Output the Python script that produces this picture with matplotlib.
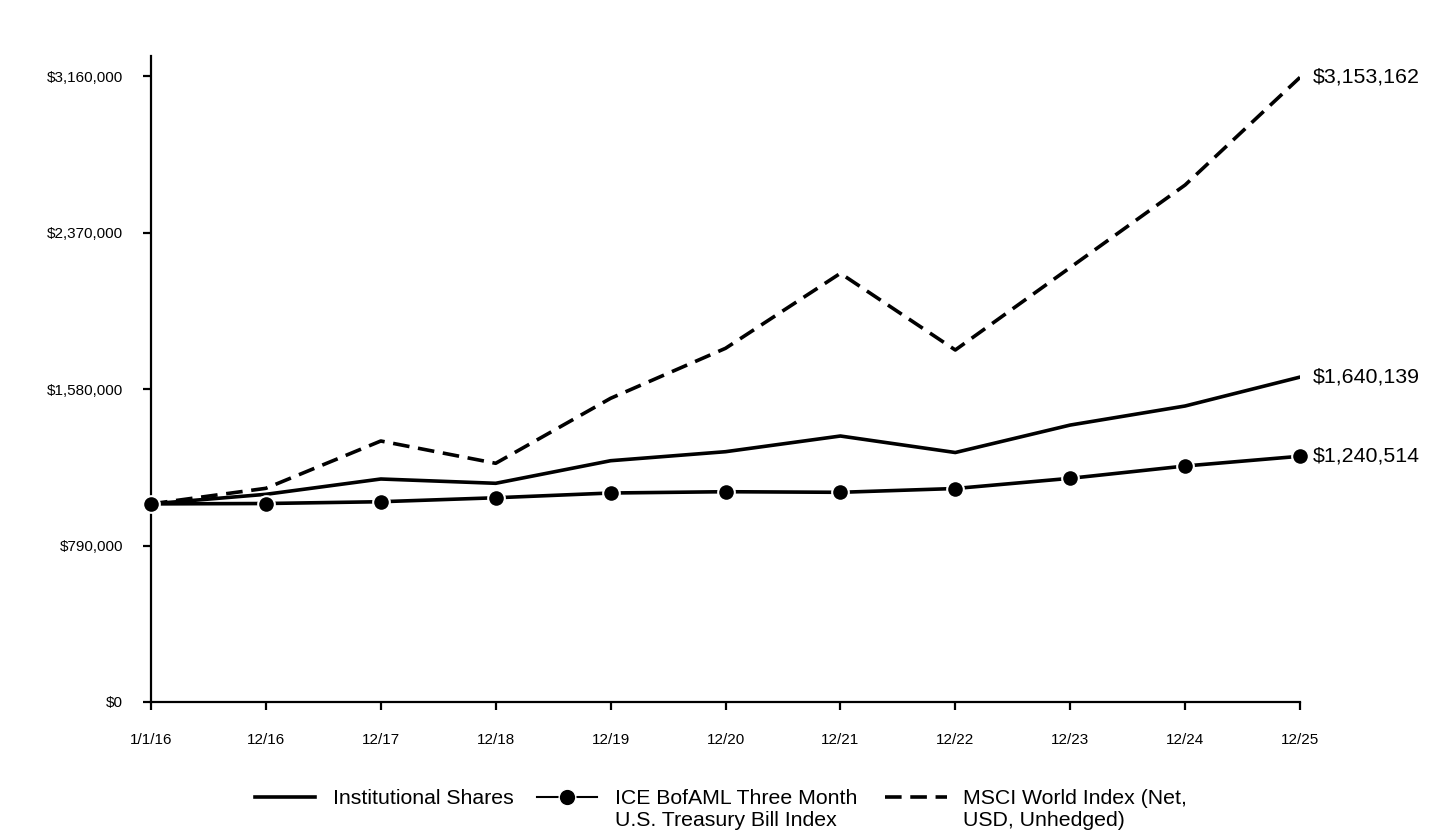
import matplotlib
matplotlib.use("Agg")
import matplotlib.pyplot as plt
from matplotlib.lines import Line2D
from matplotlib.ticker import FuncFormatter

plt.rcParams['font.family'] = ['Liberation Sans', 'DejaVu Sans']

dates = ["1/1/16", "12/16", "12/17", "12/18", "12/19", "12/20",
         "12/21", "12/22", "12/23", "12/24", "12/25"]
institutional = [1000000, 1048400, 1125700, 1104000, 1218000, 1263500,
                 1342700, 1259400, 1398000, 1494200, 1640139]
tbill = [1000000, 1002000, 1011000, 1031000, 1055000, 1061500,
         1058500, 1077700, 1129200, 1191300, 1240514]
msci = [1000000, 1078700, 1317500, 1205000, 1533000, 1785400,
        2164000, 1776900, 2193300, 2609800, 3153162]
yticks = [0, 790000, 1580000, 2370000, 3160000]
names = ["Institutional Shares",
         "ICE BofAML Three Month\nU.S. Treasury Bill Index",
         "MSCI World Index (Net,\nUSD, Unhedged)"]

W, H = 1440, 840
fig = plt.figure(figsize=(W / 100, H / 100), dpi=100)
ax = fig.add_axes([151 / W, 1 - 702 / H, (1300 - 151) / W, (702 - 56) / H])

x = list(range(len(dates)))
ax.plot(x, institutional, color='black', lw=2.6, zorder=3)
ax.plot(x, msci, color='black', lw=2.6, dashes=(4.6, 2.4), zorder=3)
ax.plot(x, tbill, color='black', lw=2.6, marker='o', markersize=12,
        markerfacecolor='black', markeredgecolor='white', markeredgewidth=1.5,
        zorder=4, clip_on=False)

for series in (msci, institutional, tbill):
    v = series[-1]
    ax.annotate(f"${v:,.0f}", xy=(x[-1], v), xytext=(9, 0),
                textcoords='offset points', va='center', ha='left',
                fontsize=15.4, annotation_clip=False)

ax.set_xlim(0, 10)
ax.set_ylim(0, 3261000)
ax.set_xticks(x)
ax.set_xticklabels(dates)
ax.set_yticks(yticks)
ax.yaxis.set_major_formatter(FuncFormatter(lambda v, p: f"${v:,.0f}"))

for s in ('top', 'right'):
    ax.spines[s].set_visible(False)
for s in ('left', 'bottom'):
    ax.spines[s].set_linewidth(1.6)
ax.tick_params(axis='x', length=6, width=1.6, pad=16, labelsize=11)
ax.tick_params(axis='y', length=6, width=1.6, pad=14, labelsize=11)

# Legend (handles aligned with first text line)
ly = 1 - 797 / H
fs = 15.3
fig.add_artist(Line2D([255 / W, 315 / W], [ly, ly], color='black', lw=2.6,
                      transform=fig.transFigure))
fig.text(333 / W, 1 - 804 / H, names[0], fontsize=fs, va='baseline', ha='left')

fig.add_artist(Line2D([537 / W, 597 / W], [ly, ly], color='black', lw=1.5,
                      transform=fig.transFigure))
fig.add_artist(Line2D([567 / W], [ly], color='black', marker='o', markersize=12,
                      markerfacecolor='black', markeredgecolor='white',
                      markeredgewidth=1.0, lw=0, transform=fig.transFigure))
fig.text(615 / W, 1 - 826 / H, names[1], fontsize=fs, va='baseline', ha='left',
         linespacing=1.2)

fig.add_artist(Line2D([885 / W, 947 / W], [ly, ly], color='black', lw=2.6,
                      dashes=(4.6, 2.4), transform=fig.transFigure))
fig.text(963 / W, 1 - 826 / H, names[2], fontsize=fs, va='baseline', ha='left',
         linespacing=1.2)

fig.savefig("out.png", dpi=100)
